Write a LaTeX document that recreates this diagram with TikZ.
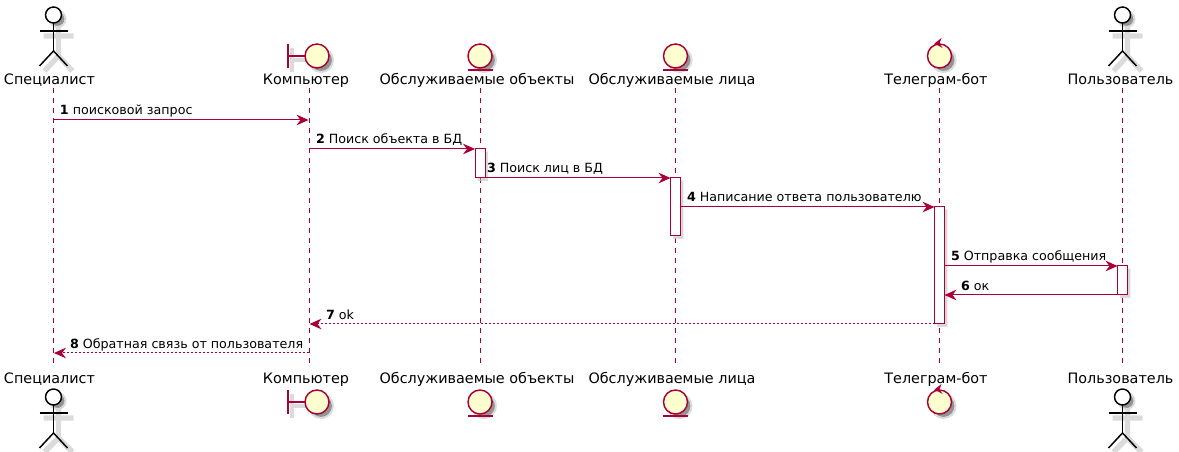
\documentclass[tikz,border=0pt]{standalone}
\usepackage{fontspec}
\setmainfont{DejaVu Sans}
\usepackage{xcolor}
\usetikzlibrary{arrows.meta, positioning, shadows}
\definecolor{umlred}{HTML}{A80036}
\definecolor{umlfill}{HTML}{FEFECE}

\begin{document}
\begin{tikzpicture}[x=0.75pt, y=-0.75pt,
        every node/.style={inner sep=0pt, outer sep=0pt},
        lifeline/.style={umlred, line width=0.75pt, dash pattern=on 3.75pt off 3.75pt},
        msg/.style={umlred, line width=0.75pt, -{Stealth[length=9pt, width=8pt, inset=3pt]}},
        msgback/.style={msg, dash pattern=on 1.5pt off 1.5pt},
        msgtext/.style={anchor=base west, font=\fontsize{9.5}{12}\selectfont},
        actortext/.style={anchor=base, font=\fontsize{10.78}{12}\selectfont},
        actbox/.style={rectangle, draw=umlred, fill=white, line width=0.75pt, minimum width=7.5pt,
            drop shadow={shadow xshift=2.2pt, shadow yshift=-2.2pt, fill=black!30, draw=black!12, line width=0.75pt}},
        icon/.style={draw=umlred, fill=umlfill, line width=1.1pt},
        iconshadow/.style={fill=black!42, draw=black!14, line width=1.5pt},
        stick/.style={black, line width=1.1pt},
        stickshadow/.style={black!14, line width=4pt}]
        \useasboundingbox (0,0) rectangle (1179,452);

        \node[actortext] (spec1) at (49.5,85) {Специалист};
        \node[actortext] (comp1) at (306,85) {Компьютер};
        \node[actortext] (obj1) at (477,85) {Обслуживаемые объекты};
        \node[actortext] (pers1) at (672,85) {Обслуживаемые лица};
        \node[actortext] (bot1) at (936,85) {Телеграм-бот};
        \node[actortext] (user1) at (1120.5,85) {Пользователь};
        \node[actortext] (spec2) at (49.5,383) {Специалист};
        \node[actortext] (comp2) at (306,383) {Компьютер};
        \node[actortext] (obj2) at (477,383) {Обслуживаемые объекты};
        \node[actortext] (pers2) at (672,383) {Обслуживаемые лица};
        \node[actortext] (bot2) at (936,383) {Телеграм-бот};
        \node[actortext] (user2) at (1120.5,383) {Пользователь};

        % Lifelines
        \coordinate (spectop) at (53.5,88); \coordinate (specend) at (53.5,368);
        \coordinate (comptop) at (309,88); \coordinate (compend) at (309,368);
        \coordinate (objtop) at (480,88); \coordinate (objend) at (480,368);
        \coordinate (perstop) at (675.5,88); \coordinate (persend) at (675.5,368);
        \coordinate (bottop) at (939.5,88); \coordinate (botend) at (939.5,368);
        \coordinate (usertop) at (1122.5,88); \coordinate (userend) at (1122.5,368);
        \draw[lifeline] (spectop) -- (specend);
        \draw[lifeline] (comptop) -- (compend);
        \draw[lifeline] (objtop) -- (objend);
        \draw[lifeline] (perstop) -- (persend);
        \draw[lifeline] (bottop) -- (botend);
        \draw[lifeline] (usertop) -- (userend);

        % Activation boxes
        \node[actbox, minimum height=21.75pt] (act1) at (480,163.5) {};
        \node[actbox, minimum height=43.5pt] (act2) at (675.5,207) {};
        \node[actbox, minimum height=87.75pt] (act3) at (939.5,265.5) {};
        \node[actbox, minimum height=21.75pt] (act4) at (1122.5,280.5) {};

        % Specialist figures
        \begin{scope}[shift={(53.5,0)}]
            \draw[stickshadow] (5,25) -- (5,56) (-10,36) -- (20,36) (5,56) -- (-9,71) (5,56) -- (19,71); \fill[iconshadow, draw=black!14] (4,19) circle (8);
            \draw[stick, fill=white] (0,15) circle (8); \draw[stick] (0,23) -- (0,51); \draw[stick] (-14,31) -- (14,31); \draw[stick] (0,51) -- (-14,66); \draw[stick] (0,51) -- (14,66);
        \end{scope}
        \begin{scope}[shift={(53.5,382)}]
            \draw[stickshadow] (5,25) -- (5,56) (-10,36) -- (20,36) (5,56) -- (-9,70) (5,56) -- (19,70); \fill[iconshadow, draw=black!14] (4,19) circle (8);
            \draw[stick, fill=white] (0,15) circle (8); \draw[stick] (0,23) -- (0,51); \draw[stick] (-14,31) -- (14,31); \draw[stick] (0,51) -- (-14,66); \draw[stick] (0,51) -- (14,66);
        \end{scope}
        % User figures
        \begin{scope}[shift={(1122.5,0)}]
            \draw[stickshadow] (5,25) -- (5,56) (-10,36) -- (20,36) (5,56) -- (-9,71) (5,56) -- (19,71); \fill[iconshadow, draw=black!14] (4,19) circle (8);
            \draw[stick, fill=white] (0,15) circle (8); \draw[stick] (0,23) -- (0,51); \draw[stick] (-14,31) -- (14,31); \draw[stick] (0,51) -- (-14,66); \draw[stick] (0,51) -- (14,66);
        \end{scope}
        \begin{scope}[shift={(1122.5,382)}]
            \draw[stickshadow] (5,25) -- (5,56) (-10,36) -- (20,36) (5,56) -- (-9,70) (5,56) -- (19,70); \fill[iconshadow, draw=black!14] (4,19) circle (8);
            \draw[stick, fill=white] (0,15) circle (8); \draw[stick] (0,23) -- (0,51); \draw[stick] (-14,31) -- (14,31); \draw[stick] (0,51) -- (-14,66); \draw[stick] (0,51) -- (14,66);
        \end{scope}
        % Computer figures
        \begin{scope}[shift={(317,56)}]
            \draw[stickshadow, line width=3pt] (-25,-8) -- (-25,16) (-25,4) -- (-8,4); \path[iconshadow] (4,4) circle (12);
            \draw[icon, fill=none] (-29,-12) -- (-29,12); \draw[icon, fill=none] (-29,0) -- (-12,0); \draw[icon] (0,0) circle (12);
        \end{scope}
        \begin{scope}[shift={(317,402)}]
            \draw[stickshadow, line width=3pt] (-25,-8) -- (-25,16) (-25,4) -- (-8,4); \path[iconshadow] (4,4) circle (12);
            \draw[icon, fill=none] (-29,-12) -- (-29,12); \draw[icon, fill=none] (-29,0) -- (-12,0); \draw[icon] (0,0) circle (12);
        \end{scope}
        % Object figures
        \begin{scope}[shift={(480,56)}]
            \path[iconshadow] (4,4) circle (12);
            \draw[icon] (0,0) circle (12); \draw[icon, fill=none] (-12.5,14) -- (12.5,14);
        \end{scope}
        \begin{scope}[shift={(480,402)}]
            \path[iconshadow] (4,4) circle (12);
            \draw[icon] (0,0) circle (12); \draw[icon, fill=none] (-12.5,14) -- (12.5,14);
        \end{scope}
        % Person figures
        \begin{scope}[shift={(675.5,56)}]
            \path[iconshadow] (4,4) circle (12);
            \draw[icon] (0,0) circle (12); \draw[icon, fill=none] (-12.5,14) -- (12.5,14);
        \end{scope}
        \begin{scope}[shift={(675.5,402)}]
            \path[iconshadow] (4,4) circle (12);
            \draw[icon] (0,0) circle (12); \draw[icon, fill=none] (-12.5,14) -- (12.5,14);
        \end{scope}
        % Bot figures
        \begin{scope}[shift={(939.5,56)}]
            \path[iconshadow] (4,4) circle (12);
            \draw[icon] (0,0) circle (12); \fill[umlred] (2,-18) -- (-5,-12.5) -- (3,-8) -- (0,-12.5) -- cycle;
        \end{scope}
        \begin{scope}[shift={(939.5,402)}]
            \path[iconshadow] (4,4) circle (12);
            \draw[icon] (0,0) circle (12); \fill[umlred] (2,-18) -- (-5,-12.5) -- (3,-8) -- (0,-12.5) -- cycle;
        \end{scope}

        % Messages
        \coordinate (m1start) at (53.5,120); \coordinate (m1end) at (308.5,120);
        \coordinate (m2start) at (309,149);
        \coordinate (m4start) at (680.5,207);
        \coordinate (m5start) at (944.5,266);
        \coordinate (m6end) at (944.5,295);
        \coordinate (m7end) at (309.5,324);
        \coordinate (m8start) at (309,353); \coordinate (m8end) at (54,353);
        \draw[msg] (m1start) -- (m1end);
        \draw[msg] (m2start) -- (act1.north west);
        \draw[msg] (act1.south east) -- (act2.north west);
        \draw[msg] (m4start) -- (act3.north west);
        \draw[msg] (m5start) -- (act4.north west);
        \draw[msg] (act4.south west) -- (m6end);
        \draw[msgback] (act3.south west) -- (m7end);
        \draw[msgback] (m8start) -- (m8end);

        \node[msgtext] (t1) at (60,114.5) {\textbf{1} поисковой запрос};
        \node[msgtext] (t2) at (316,143.5) {\textbf{2} Поиск объекта в БД};
        \node[msgtext] (t3) at (487,173) {\textbf{3} Поиск лиц в БД};
        \node[msgtext] (t4) at (687,202) {\textbf{4} Написание ответа пользователю};
        \node[msgtext] (t5) at (951,261) {\textbf{5} Отправка сообщения};
        \node[msgtext] (t6) at (961,290.5) {\textbf{6} ок};
        \node[msgtext] (t7) at (326,319.5) {\textbf{7} ok};
        \node[msgtext] (t8) at (70,348.5) {\textbf{8} Обратная связь от пользователя};
    \end{tikzpicture}
\end{document}
